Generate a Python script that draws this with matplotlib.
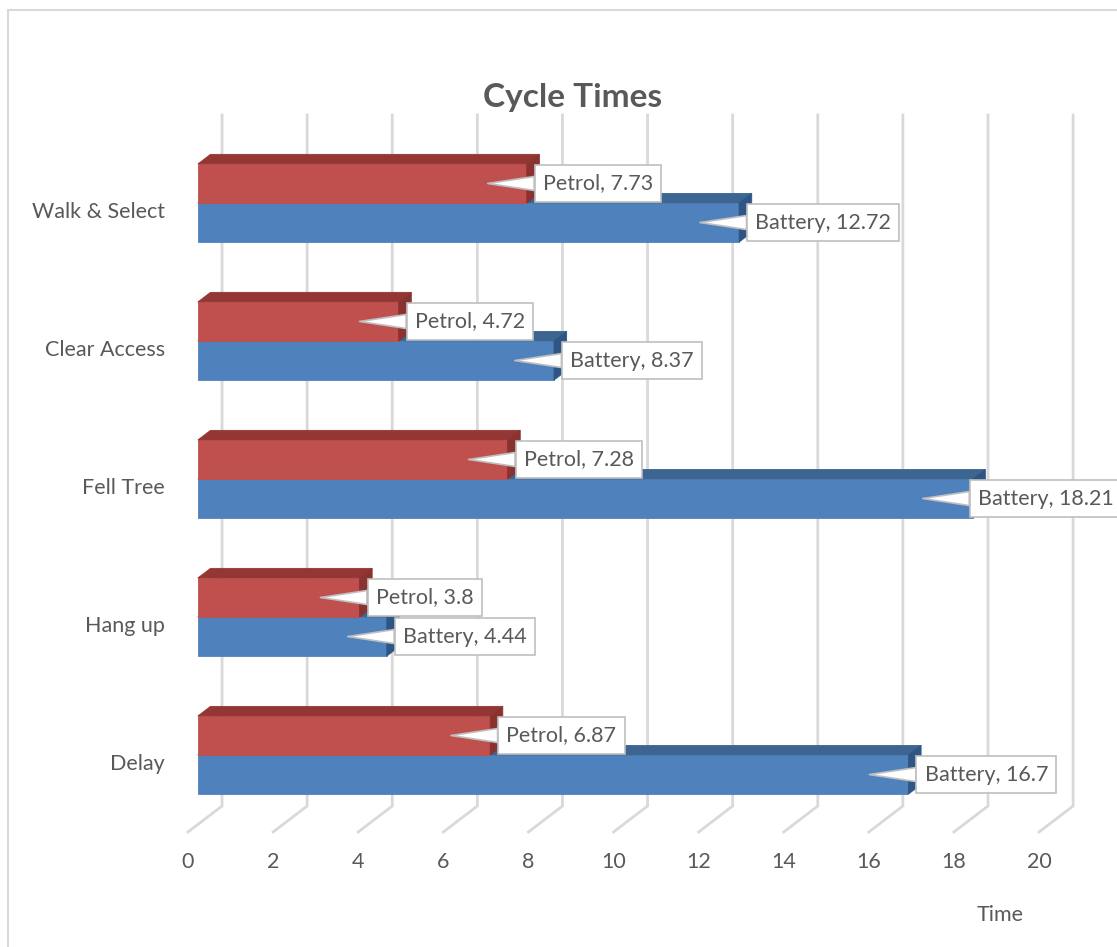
import matplotlib.pyplot as plt
from matplotlib.patches import Polygon
from matplotlib.lines import Line2D

# ---- data ----
categories = ["Delay", "Hang up", "Fell Tree", "Clear Access", "Walk & Select"]
petrol = [6.87, 3.8, 7.28, 4.72, 7.73]
battery = [16.7, 4.44, 18.21, 8.37, 12.72]
x_ticks = [0, 2, 4, 6, 8, 10, 12, 14, 16, 18, 20]

plt.rcParams["font.family"] = ["Lato", "DejaVu Sans"]
TEXT = "#595959"
GRID = "#D9D9D9"
FS = 15.5

# series styles: front, top, side face colours
STYLES = {
    "Petrol": ("#C0504D", "#943634", "#8A3230"),
    "Battery": ("#4F81BD", "#3C6591", "#2E5583"),
}

# oblique projection of the 3-D box (depth 0 = front of floor, 1 = back wall)
DX, DY = 0.80, 0.188
D0, D1 = 0.29, 0.66
BAR_H = 0.283
Y_FLOOR, Y_TOP = -0.503, 4.504


def proj(v, y, d):
    return v + (d - D0) * DX, y + (d - D0) * DY


def bar3d(ax, v, y0, y1, colors):
    front, top, side = colors
    faces = [
        ([proj(0, y0, D0), proj(v, y0, D0), proj(v, y1, D0), proj(0, y1, D0)], front),
        ([proj(0, y1, D0), proj(v, y1, D0), proj(v, y1, D1), proj(0, y1, D1)], top),
        ([proj(v, y0, D0), proj(v, y0, D1), proj(v, y1, D1), proj(v, y1, D0)], side),
    ]
    for pts, c in faces:
        ax.add_patch(Polygon(pts, closed=True, facecolor=c, edgecolor=c,
                             lw=0.6, zorder=3))


fig = plt.figure(figsize=(11.17, 9.47), dpi=100)
ax = fig.add_axes([0, 0, 1, 1])
ax.set_xlim(-4.65, 21.60)
ax.set_ylim(-1.391, 5.471)
ax.axis("off")

# chart area border
fig.add_artist(Line2D([8 / 1117, 8 / 1117], [-0.1, 1 - 10 / 947],
                      color=GRID, lw=1.5, transform=fig.transFigure))
fig.add_artist(Line2D([8 / 1117, 1.1], [1 - 10 / 947, 1 - 10 / 947],
                      color=GRID, lw=1.5, transform=fig.transFigure))

# gridlines on the back wall and floor
for t in x_ticks:
    p0 = proj(t, Y_FLOOR, 0)
    p1 = proj(t, Y_FLOOR, 1)
    p2 = proj(t, Y_TOP, 1)
    ax.plot([p0[0], p1[0], p2[0]], [p0[1], p1[1], p2[1]], color=GRID,
            lw=2, zorder=1, solid_joinstyle="miter")
    ax.text(p0[0], -0.775, str(t), ha="center", va="center",
            fontsize=FS, color=TEXT)

ax.text(18.85, -1.159, "Time", ha="center", va="center", fontsize=FS,
        color=TEXT)

# category labels
for k, name in enumerate(categories):
    ax.text(-0.773, k - 0.065, name, ha="right", va="center", fontsize=FS,
            color=TEXT)

# bars: battery (lower) first, petrol on top
for k in range(len(categories)):
    bar3d(ax, battery[k], k - BAR_H, k, STYLES["Battery"])
    bar3d(ax, petrol[k], k, k + BAR_H, STYLES["Petrol"])

# data callouts
RIGHT_PX = 1122
callouts = []
for name, vals, off in (("Petrol", petrol, BAR_H / 2), ("Battery", battery, -BAR_H / 2)):
    for k, v in enumerate(vals):
        yc = k + off
        ann = ax.annotate(
            f"{name}, {v:g}", xy=(v - 0.92, yc), xytext=(v + 0.38, yc),
            ha="left", va="center", fontsize=FS, color=TEXT, zorder=6,
            bbox=dict(boxstyle="square,pad=0.38", fc="white", ec="#BFBFBF", lw=1.2),
            arrowprops=dict(arrowstyle="wedge,tail_width=0.65", fc="white",
                            ec="#BFBFBF", lw=1.2, shrinkA=0, shrinkB=0),
        )
        callouts.append(ann)

# keep callouts inside the chart area
fig.canvas.draw()
renderer = fig.canvas.get_renderer()
px_per_unit = ax.transData.transform((1, 0))[0] - ax.transData.transform((0, 0))[0]
for ann in callouts:
    ext = ann.get_bbox_patch().get_window_extent(renderer)
    over = ext.x1 - RIGHT_PX
    if over > 0:
        shift = over / px_per_unit
        ann.xy = (ann.xy[0] - shift, ann.xy[1])
        ann.xyann = (ann.xyann[0] - shift, ann.xyann[1])

fig.text(573 / 1117, 1 - 97 / 947, "Cycle Times", ha="center", va="center",
         fontsize=24, fontweight="bold", color=TEXT)

fig.savefig("out.png", dpi=100)
